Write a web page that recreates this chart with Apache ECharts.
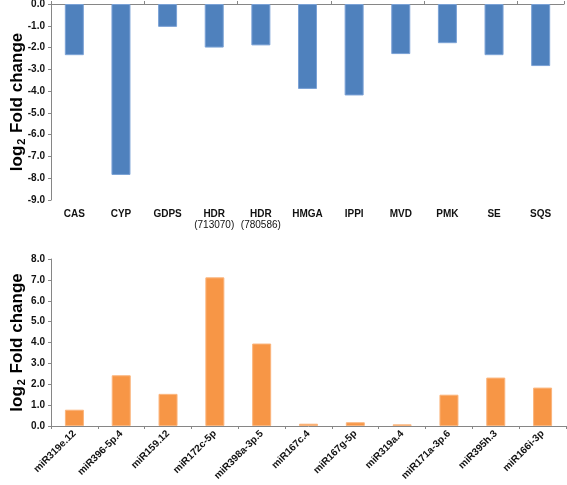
<!DOCTYPE html>
<html>
<head>
<meta charset="utf-8">
<script src="https://cdn.jsdelivr.net/npm/echarts@6/dist/echarts.min.js"></script>
<style>html,body{margin:0;padding:0;background:#fff}#c{width:567px;height:485px}</style>
</head>
<body>
<div id="c"></div>
<script>
var geneCategories = ['CAS','CYP','GDPS','HDR\n(713070)','HDR\n(780586)','HMGA','IPPI','MVD','PMK','SE','SQS'];
var geneValues = [-2.35,-7.85,-1.05,-2.0,-1.9,-3.9,-4.2,-2.3,-1.8,-2.35,-2.85];
var mirCategories = ['miR319e.12','miR396-5p.4','miR159.12','miR172c-5p','miR398a-3p.5','miR167c.4','miR167g-5p','miR319a.4','miR171a-3p.6','miR395h.3','miR166i-3p'];
var mirValues = [0.78,2.43,1.54,7.12,3.95,0.11,0.18,0.08,1.50,2.32,1.84];

var FONT = 'Liberation Sans, Arial, sans-serif';
var AX = '#868686';
var chart = echarts.init(document.getElementById('c'), null, {renderer:'canvas'});
var yName = {
  name: '{a|log}{s|2}{a| Fold change}',
  nameLocation: 'middle',
  nameGap: 24,
  nameMoveOverlap: false,
  nameTextStyle: {
    rich: {
      a: {fontFamily: FONT, fontWeight: 'bold', fontSize: 17, color: '#000'},
      s: {fontFamily: FONT, fontWeight: 'bold', fontSize: 11, color: '#000', padding: [9,1,0,1]}
    }
  }
};
function yAxisBase(extra){
  return Object.assign({
    type: 'value', interval: 1,
    axisLine: {show: true, lineStyle: {color: AX, width: 1}},
    axisTick: {show: true, length: 3, lineStyle: {color: AX}},
    splitLine: {show: false},
    axisLabel: {fontFamily: FONT, fontWeight: 'bold', fontSize: 10, color: '#111', margin: 6,
      formatter: function(v){ return v.toFixed(1); }}
  }, yName, extra);
}
chart.setOption({
  animation: false,
  grid: [
    {left: 51, right: 3, top: 4, height: 196, outerBoundsMode: 'none', containLabel: false},
    {left: 51, right: 1, top: 259, height: 167, outerBoundsMode: 'none', containLabel: false}
  ],
  xAxis: [
    {gridIndex: 0, type: 'category', data: geneCategories, position: 'top',
      axisLine: {show: true, onZero: false, lineStyle: {color: AX}},
      axisTick: {show: true, length: 3, lineStyle: {color: AX}},
      axisLabel: {show: false}},
    {gridIndex: 0, type: 'category', data: geneCategories, position: 'bottom',
      axisLine: {show: false, onZero: false}, axisTick: {show: false},
      axisLabel: {fontFamily: FONT, fontSize: 10, color: '#111', margin: 9, lineHeight: 11, interval: 0,
        formatter: function(v){
          var p = v.split('\n');
          return p.length > 1 ? '{b|' + p[0] + '}\n{n|' + p[1] + '}' : '{b|' + v + '}';
        },
        rich: {
          b: {fontFamily: FONT, fontWeight: 'bold', fontSize: 10, color: '#111', lineHeight: 11},
          n: {fontFamily: FONT, fontSize: 10, color: '#111', lineHeight: 11}
        }}},
    {gridIndex: 1, type: 'category', data: mirCategories, position: 'bottom',
      axisLine: {show: true, onZero: false, lineStyle: {color: AX}},
      axisTick: {show: true, length: 3, lineStyle: {color: AX}},
      axisLabel: {fontFamily: FONT, fontWeight: 'bold', fontSize: 10, color: '#111', rotate: 45, margin: 6, interval: 0}}
  ],
  yAxis: [
    yAxisBase({gridIndex: 0, min: -9, max: 0}),
    yAxisBase({gridIndex: 1, min: 0, max: 8})
  ],
  series: [
    {type: 'bar', xAxisIndex: 0, yAxisIndex: 0, data: geneValues, barWidth: 19,
      itemStyle: {color: '#4F81BD', borderColor: '#7BA2D6', borderWidth: 1}},
    {type: 'bar', xAxisIndex: 2, yAxisIndex: 1, data: mirValues, barWidth: 19,
      itemStyle: {color: '#F79646', borderColor: '#FBB57C', borderWidth: 1}}
  ]
});
</script>
</body>
</html>
